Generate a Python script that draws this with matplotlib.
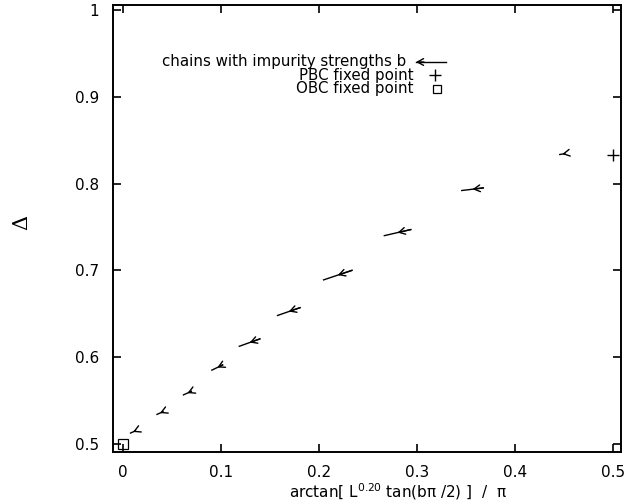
import numpy as np
import matplotlib
matplotlib.use("Agg")
import matplotlib.pyplot as plt

plt.rcParams['font.family'] = ['DejaVu Sans']
plt.rcParams['mathtext.fontset'] = 'custom'
plt.rcParams['mathtext.rm'] = 'DejaVu Sans'

# flow arrows: each chain goes from the right end to the left end
x_right = [0.013, 0.041, 0.070, 0.102, 0.140, 0.181, 0.234, 0.294, 0.368, 0.451]
y_right = [0.515, 0.537, 0.5605, 0.591, 0.621, 0.657, 0.700, 0.747, 0.795, 0.8345]
x_left = [0.008, 0.035, 0.062, 0.091, 0.119, 0.158, 0.205, 0.267, 0.346, 0.446]
y_left = [0.5125, 0.534, 0.5565, 0.585, 0.6125, 0.648, 0.689, 0.740, 0.792, 0.8335]

pbc_x, pbc_y = [0.5], [0.833]
obc_x, obc_y = [0.0], [0.5]

xticks = [0, 0.1, 0.2, 0.3, 0.4, 0.5]
yticks = [0.5, 0.6, 0.7, 0.8, 0.9, 1.0]

L, R, B, T = 113.3, 621, 451.7, 5
fig = plt.figure(figsize=(6.41, 5.01), dpi=100)
ax = fig.add_axes([L / 641, 1 - B / 501, (R - L) / 641, (B - T) / 501])

arr = dict(arrowstyle='->, head_length=0.4, head_width=0.22', lw=1.0,
           color='black', shrinkA=0, shrinkB=0, mutation_scale=11)
for xr, yr, xl, yl in zip(x_right, y_right, x_left, y_left):
    ax.plot([xl, xr], [yl, yr], color='black', lw=1.0)
    xm, ym = (xl + xr) / 2, (yl + yr) / 2
    ax.annotate('', xy=(xm, ym), xytext=(xr, yr), arrowprops=arr)

ax.plot(pbc_x, pbc_y, '+', color='black', ms=8, mew=1.0)
ax.plot(obc_x, obc_y, 's', mfc='none', mec='black', ms=7, mew=0.9)

ax.set_xlim(-0.0096, 0.5085)
ax.set_ylim(0.491, 1.0058)
ax.set_xticks(xticks)
ax.set_yticks(yticks)
ax.set_xticklabels(['%g' % t for t in xticks])
ax.set_yticklabels(['%g' % t for t in yticks])
ax.tick_params(direction='in', length=6, width=1.2, top=True, right=True,
               labelsize=11)
ax.tick_params(axis='x', pad=9.5)
ax.tick_params(axis='y', pad=10)
for s in ax.spines.values():
    s.set_linewidth(1.4)

ax.set_xlabel(r'arctan[ L$^{\mathrm{0.20}}$ tan(bπ /2) ]  /  π', fontsize=11, va='center')
ax.xaxis.set_label_coords((398 - L) / (R - L), -(491.5 - B) / (B - T))
ax.set_ylabel('Δ', fontsize=15, va='center', family='DejaVu Serif')
ax.yaxis.set_label_coords(-(L - 22) / (R - L), (B - 222) / (B - T))

# legend drawn by hand, gnuplot style
tr = ax.transAxes
def ax_xy(px, py):
    return ((px - L) / (R - L), (B - py) / (B - T))

ax.text(*ax_xy(406, 62), 'chains with impurity strengths b', transform=tr,
        ha='right', va='center', fontsize=10.8)
ax.text(*ax_xy(414, 75.5), 'PBC fixed point', transform=tr,
        ha='right', va='center', fontsize=10.8)
ax.text(*ax_xy(414, 89), 'OBC fixed point', transform=tr,
        ha='right', va='center', fontsize=10.8)
p0, p1, pm = ax_xy(416, 62), ax_xy(446, 62), ax_xy(424, 62)
ax.plot([p0[0], p1[0]], [p0[1], p1[1]], color='black', lw=1.0, transform=tr)
ax.annotate('', xy=p0, xytext=pm, xycoords=tr, textcoords=tr, arrowprops=arr)
ax.plot(*ax_xy(435, 75.5), '+', color='black', ms=8, mew=1.0, transform=tr)
ax.plot(*ax_xy(437, 89), 's', mfc='none', mec='black', ms=6, mew=0.9, transform=tr)

fig.savefig('out.png', dpi=100)
